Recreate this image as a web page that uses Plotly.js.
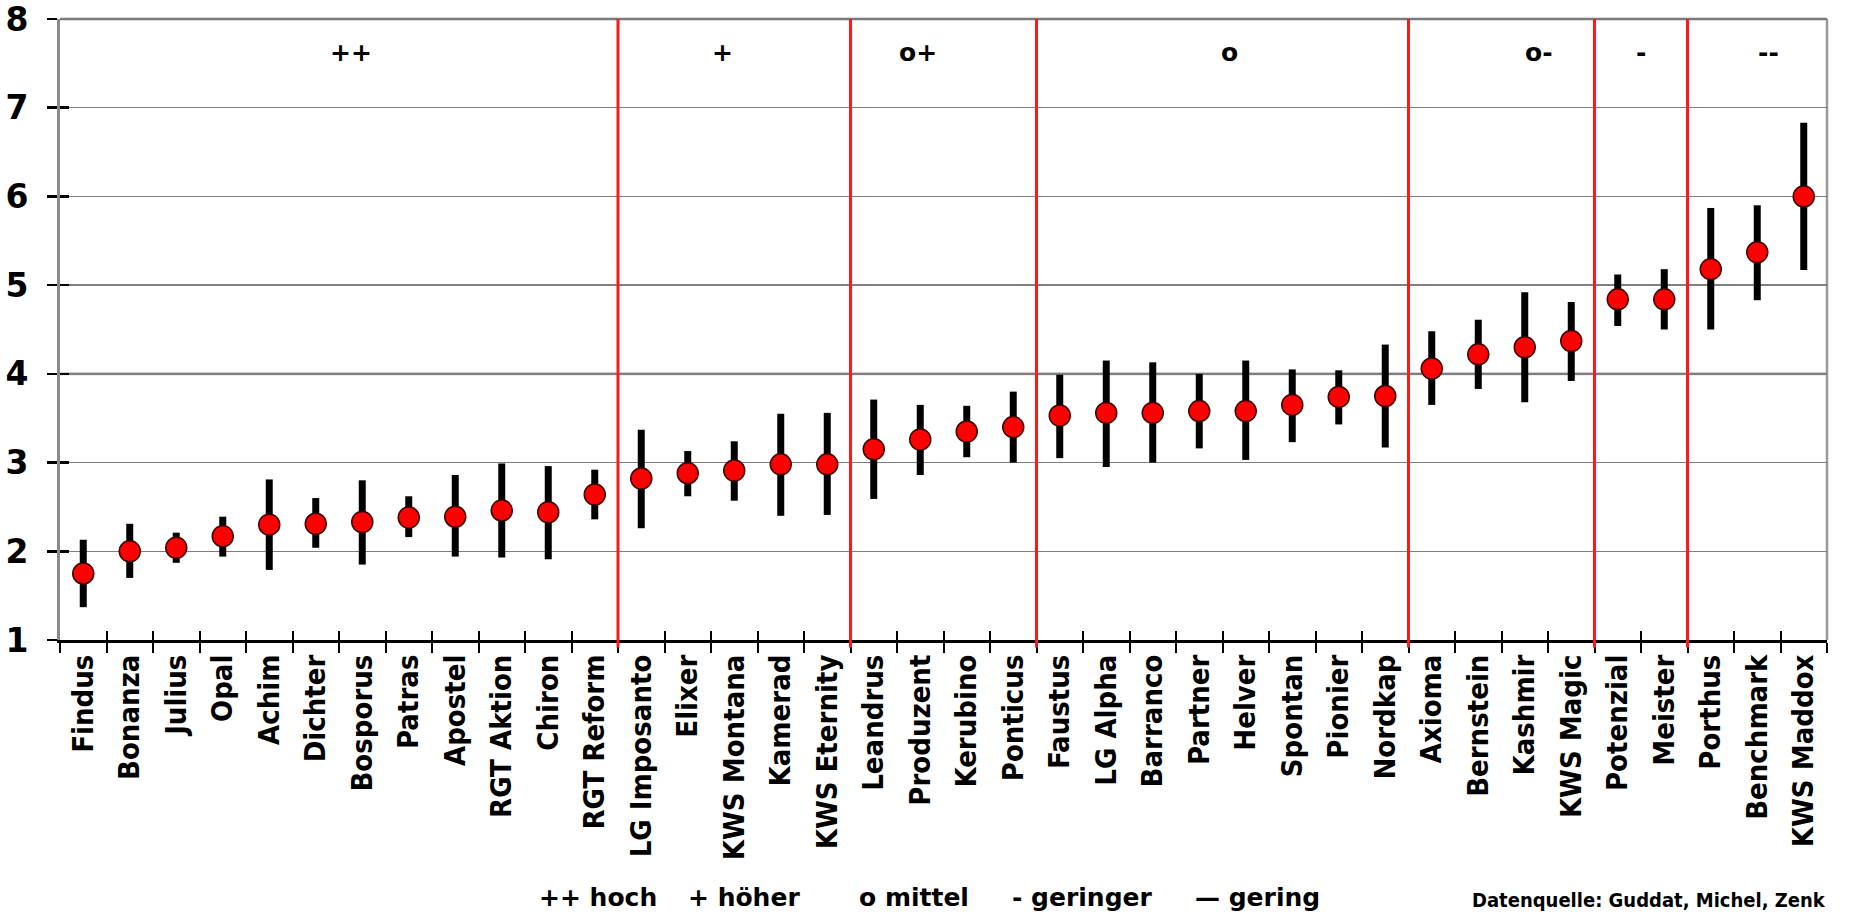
<!DOCTYPE html>
<html>
<head>
<meta charset="utf-8">
<script src="https://cdn.plot.ly/plotly-3.0.1.min.js"></script>
<style>
  html, body { margin: 0; padding: 0; background: #ffffff; }
  #chart { width: 1853px; height: 916px; }
</style>
</head>
<body>
<div id="chart"></div>
<script>
// ---- data ----
const varieties = ["Findus", "Bonanza", "Julius", "Opal", "Achim", "Dichter", "Bosporus", "Patras",
  "Apostel", "RGT Aktion", "Chiron", "RGT Reform", "LG Imposanto", "Elixer", "KWS Montana",
  "Kamerad", "KWS Eternity", "Leandrus", "Produzent", "Kerubino", "Ponticus", "Faustus",
  "LG Alpha", "Barranco", "Partner", "Helver", "Spontan", "Pionier", "Nordkap", "Axioma",
  "Bernstein", "Kashmir", "KWS Magic", "Potenzial", "Meister", "Porthus", "Benchmark", "KWS Maddox"];
const meanScore = [1.75, 2.00, 2.04, 2.17, 2.30, 2.31, 2.33, 2.38, 2.39, 2.46, 2.44, 2.64,
  2.82, 2.88, 2.91, 2.98, 2.98, 3.15, 3.26, 3.35, 3.40, 3.53, 3.56, 3.56, 3.58, 3.58, 3.65,
  3.74, 3.75, 4.06, 4.22, 4.30, 4.37, 4.84, 4.84, 5.18, 5.37, 6.00];
const upperBound = [2.13, 2.31, 2.21, 2.39, 2.81, 2.60, 2.80, 2.62, 2.86, 2.99, 2.96, 2.92,
  3.37, 3.13, 3.24, 3.55, 3.56, 3.71, 3.65, 3.64, 3.80, 3.99, 4.15, 4.13, 4.00, 4.15, 4.05,
  4.04, 4.33, 4.48, 4.61, 4.92, 4.81, 5.12, 5.18, 5.87, 5.90, 6.83];
const lowerBound = [1.37, 1.70, 1.87, 1.94, 1.79, 2.04, 1.85, 2.16, 1.94, 1.93, 1.91, 2.36,
  2.26, 2.62, 2.57, 2.40, 2.41, 2.59, 2.86, 3.06, 3.00, 3.05, 2.95, 3.00, 3.16, 3.03, 3.23,
  3.43, 3.17, 3.65, 3.83, 3.68, 3.92, 4.54, 4.50, 4.50, 4.83, 5.17];
const groupLabels = ["++", "+", "o+", "o", "o-", "-", "--"];
const groupSizes = [12, 5, 4, 8, 4, 2, 3];
const groupLabelPos = [5.75, 13.75, 17.95, 24.65, 31.3, 33.5, 36.25];
const yTicks = [1, 2, 3, 4, 5, 6, 7, 8];
const legendItems = ["++ hoch", "+ höher", "o mittel", "- geringer", "— gering"];
const sourceNote = "Datenquelle: Guddat, Michel, Zenk";

// ---- layout geometry (pixels) ----
const W = 1853, H = 916;
const M = { l: 60, r: 26, t: 19, b: 276 };
const plotW = W - M.l - M.r, plotH = H - M.t - M.b;
const pxX = px => (px - M.l) / plotW;
const pxY = py => (H - M.b - py) / plotH;
const NARROW = "Liberation Sans Narrow, DejaVu Sans Condensed, Liberation Sans, sans-serif";
const WIDE = "DejaVu Sans, Liberation Sans, sans-serif";

const errPlus = meanScore.map((m, i) => +(upperBound[i] - m).toFixed(3));
const errMinus = meanScore.map((m, i) => +(m - lowerBound[i]).toFixed(3));

const trace = {
  type: "scatter",
  mode: "markers",
  x: varieties,
  y: meanScore,
  marker: { color: "#ff0000", size: 21, line: { color: "#3a0000", width: 1.5 } },
  error_y: { type: "data", symmetric: false, array: errPlus, arrayminus: errMinus,
             color: "#000000", thickness: 7, width: 0 },
  hoverinfo: "x+y",
  showlegend: false
};
// invisible copy on overlay axes, only to draw the inner half of the crossing ticks
const tickTrace = {
  type: "scatter", mode: "markers", x: varieties, y: meanScore,
  xaxis: "x2", yaxis: "y2", marker: { opacity: 0 }, hoverinfo: "skip", showlegend: false
};

const shapes = [];
const annotations = [];
let start = 0;
groupSizes.forEach((n, g) => {
  const end = start + n;
  annotations.push({
    x: groupLabelPos[g], xref: "x", y: 7.62, yref: "y",
    text: groupLabels[g], showarrow: false,
    font: { family: WIDE, size: 25, color: "#000", weight: "bold" }
  });
  if (g < groupSizes.length - 1) {
    shapes.push({ type: "line", xref: "x", yref: "paper", x0: end - 0.5, x1: end - 0.5,
      y0: -0.012, y1: 1, line: { color: "#ff1a1a", width: 3 }, layer: "above" });
  }
  start = end;
});

// lighter, thicker line at 4 as in the reference
shapes.push({ type: "line", xref: "paper", yref: "y", x0: 0, x1: 1, y0: 4, y1: 4,
  line: { color: "#bdbdbd", width: 3 }, layer: "below" });
// right and top border
shapes.push({ type: "line", xref: "paper", yref: "paper", x0: 1, x1: 1, y0: 0, y1: 1,
  line: { color: "#9a9a9a", width: 2.5 }, layer: "below" });
shapes.push({ type: "line", xref: "paper", yref: "paper", x0: 0, x1: 1, y0: 1, y1: 1,
  line: { color: "#7a7a7a", width: 2.5 }, layer: "below" });

const legendLeft = [537, 686, 857, 1010, 1193];
legendItems.forEach((t, i) => {
  annotations.push({
    x: pxX(legendLeft[i]), xref: "paper", xanchor: "left",
    y: pxY(897), yref: "paper", yanchor: "middle",
    text: t, showarrow: false,
    font: { family: WIDE, size: 25, color: "#000", weight: "bold" }
  });
});
annotations.push({
  x: pxX(1828), xref: "paper", xanchor: "right",
  y: pxY(900), yref: "paper", yanchor: "middle",
  text: sourceNote, showarrow: false,
  font: { family: NARROW, size: 20, color: "#000", weight: "bold" }
});

const layout = {
  width: W, height: H,
  margin: M,
  paper_bgcolor: "#ffffff", plot_bgcolor: "#ffffff",
  xaxis: {
    type: "category", range: [-0.5, varieties.length - 0.5],
    showgrid: false, showline: true, linecolor: "#000000", linewidth: 3,
    ticks: "outside", tickson: "boundaries", ticklen: 10, tickwidth: 2, tickcolor: "#000",
    tickangle: -90,
    tickfont: { family: NARROW, size: 29, color: "#000", weight: "bold" },
    fixedrange: true
  },
  xaxis2: {
    type: "category", overlaying: "x", matches: "x", anchor: "y", side: "bottom",
    range: [-0.5, varieties.length - 0.5],
    showgrid: false, showline: false, showticklabels: false, zeroline: false,
    ticks: "inside", tickson: "boundaries", ticklen: 9, tickwidth: 2, tickcolor: "#000",
    fixedrange: true
  },
  yaxis: {
    range: [1, 8], tickvals: yTicks, ticktext: yTicks.map(String),
    showgrid: true, gridcolor: "#7f7f7f", gridwidth: 1.5,
    showline: true, linecolor: "#8a8a8a", linewidth: 3,
    ticks: "outside", ticklen: 10, tickwidth: 2.5, tickcolor: "#000",
    ticklabelstandoff: 12, ticklabeloverflow: "allow",
    tickfont: { family: WIDE, size: 33, color: "#000", weight: "bold" },
    zeroline: false, fixedrange: true
  },
  yaxis2: {
    range: [1, 8], tickvals: yTicks, overlaying: "y", anchor: "x", side: "left",
    showgrid: false, showline: false, showticklabels: false, zeroline: false,
    ticks: "inside", ticklen: 9, tickwidth: 2.5, tickcolor: "#000", fixedrange: true
  },
  shapes: shapes,
  annotations: annotations,
  showlegend: false
};

Plotly.newPlot("chart", [tickTrace, trace], layout, { displayModeBar: false, staticPlot: true });
</script>
</body>
</html>
